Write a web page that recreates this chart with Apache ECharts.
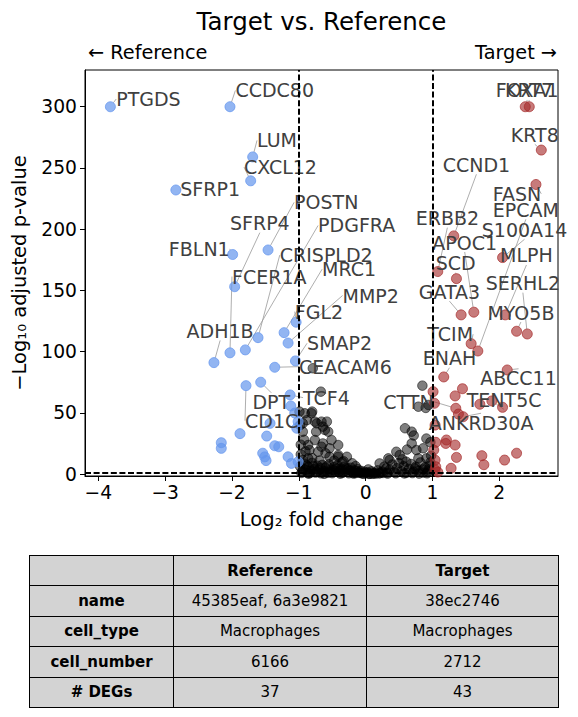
<!DOCTYPE html>
<html><head><meta charset="utf-8">
<script src="https://cdn.jsdelivr.net/npm/echarts@6/dist/echarts.min.js"></script>
<style>
html,body{margin:0;padding:0;background:#fff;}
#wrap{position:relative;width:578px;height:717px;overflow:hidden;}
#chart{position:absolute;left:0;top:0;width:578px;height:717px;}
#tbl{position:absolute;left:29px;top:555px;border-collapse:collapse;font-family:'DejaVu Sans',sans-serif;font-size:15px;color:#000;table-layout:fixed;}
#tbl td{border:1px solid #000;background:#d3d3d3;text-align:center;height:29.4px;padding:0;white-space:nowrap;}
#tbl td.b{font-weight:bold;}
</style></head>
<body><div id="wrap"><div id="chart"></div><table id="tbl"></table></div>
<script>
// ---------------- data ----------------
const xTicks = [-4, -3, -2, -1, 0, 1, 2];
const yTicks = [0, 50, 100, 150, 200, 250, 300];
const fcThreshold = 1;
const pThreshold = 1.3; // -log10(0.05)

// [log2FC, -log10 padj, gene label]
const refPoints = [
  [-3.82, 300, 'PTGDS'], [-2.03, 300, 'CCDC80'], [-1.69, 259, 'LUM'], [-1.72, 239.5, 'CXCL12'],
  [-2.84, 232, 'SFRP1'], [-1.46, 183, 'POSTN'], [-1.99, 179.3, 'FBLN1'], [-1.96, 153, 'SFRP4'],
  [-2.03, 99, 'FCER1A'], [-2.27, 91, 'ADH1B'], [-1.80, 101.4, 'PDGFRA'], [-1.61, 111.4, 'CRISPLD2'],
  [-1.22, 115.5, 'MRC1'], [-1.04, 124, 'FGL2'], [-1.16, 107, 'MMP2'], [-1.05, 92.4, 'SMAP2'],
  [-1.36, 87.2, 'CEACAM6'], [-1.79, 72.2, 'CD1C'], [-1.57, 75, 'DPT'], [-1.13, 64.6, 'TCF4'],
  [-1.12, 55.6, ''], [-1.06, 49.8, ''], [-1.01, 42.8, ''], [-1.03, 37.4, ''], [-1.43, 41.4, ''],
  [-1.88, 33, ''], [-1.48, 31, ''], [-2.16, 25.6, ''], [-2.16, 21, ''], [-1.36, 23.1, ''],
  [-1.30, 22.3, ''], [-1.54, 17, ''], [-1.51, 14, ''], [-1.49, 11, ''], [-1.16, 14.1, ''],
  [-1.11, 8.7, ''], [-1.01, 10, '']
];
const targetPoints = [
  [2.39, 300, 'FOXA1'], [2.45, 300, 'KRT7'], [2.63, 264.6, 'KRT8'], [2.55, 236.5, 'FASN'],
  [1.32, 194.5, 'CCND1'], [2.05, 176.8, 'S100A14'], [1.08, 165.4, 'ERBB2'], [1.36, 159.6, 'SCD'],
  [1.43, 130, 'GATA3'], [1.62, 132.2, 'APOC1'], [2.09, 130, 'MLPH'], [2.26, 116.6, 'MYO5B'],
  [2.42, 114.4, 'SERHL2'], [1.58, 106.5, 'TCIM'], [1.68, 100.5, 'EPCAM'], [2.12, 85, 'ABCC11'],
  [1.17, 79.3, 'ENAH'], [1.45, 69.7, ''], [1.34, 63.8, ''], [1.01, 67.3, ''], [1.89, 59.7, 'TENT5C'],
  [1.71, 57, ''], [2.05, 54.5, ''], [1.35, 53.7, 'CTTN'], [1.39, 49, ''], [1.46, 46.8, 'ANKRD30A'],
  [1.03, 57.8, ''], [1.04, 40, ''], [1.05, 25.9, ''], [1.21, 27.8, ''], [1.20, 25, ''],
  [1.34, 23.7, ''], [1.36, 13.6, ''], [1.74, 15, ''], [1.77, 7.6, ''], [2.08, 11.4, ''],
  [2.26, 17, ''], [1.28, 4.7, ''], [1.04, 11.4, ''], [1.05, 6, ''], [1.04, 3.3, ''],
  [1.02, 19.6, ''], [1.08, 1.6, '']
];
const otherPoints = [
  [-0.79, 86.4], [-0.67, 67.3], [0.85, 72.2], [0.79, 55], [0.94, 56.4], [0.90, 54],
  [-0.99, 51], [-0.80, 51], [-0.88, 44], [-0.76, 42.8], [-0.58, 42.8], [-0.64, 38.7],
  [-0.61, 36], [-0.74, 34.6], [-0.94, 34.6], [-0.51, 27.8], [-0.76, 27.8], [-0.86, 23.7],
  [-0.66, 22.3], [-0.41, 23.7], [0.59, 37.4], [0.69, 34.6], [0.69, 25], [0.86, 21],
  [0.76, 19.6], [0.46, 18.2], [0.91, 12.8], [0.34, 12.8], [0.21, 8.7], [-0.28, 14.1],
  [-0.41, 14.1], [-0.54, 14.1], [-0.94, 11.4], [-0.91, 49.6], [-0.81, 49.6], [-0.94, 41.4],
  [-0.73, 41.4], [-0.66, 42.8], [-0.56, 34.6], [-0.64, 25], [-0.84, 19.6], [-0.71, 18.2],
  [-0.54, 21], [-0.86, 12.8], [-0.41, 15.5], [0.72, 31.5], [0.79, 12.8], [0.51, 15.5],
  [0.36, 11.4], [0.61, 10], [0.04, 3.8], [0.31, 4.7], [0.74, 4.7], [0.86, 3.8], [0.94, 3.8],
  [-0.97, 24], [-0.92, 28], [-0.98, 40], [0.91, 29], [0.97, 26],
  [-0.98, 6.2], [-0.95, 2.1], [-0.92, 8.5], [-0.90, 3.4], [-0.87, 0.8], [-0.85, 5.6],
  [-0.82, 2.7], [-0.80, 9.1], [-0.77, 4.0], [-0.75, 1.2], [-0.72, 6.8], [-0.70, 3.1],
  [-0.67, 0.6], [-0.65, 7.5], [-0.62, 2.4], [-0.60, 5.0], [-0.57, 1.0], [-0.55, 8.0],
  [-0.52, 3.6], [-0.50, 0.7], [-0.47, 5.8], [-0.45, 2.2], [-0.42, 7.1], [-0.40, 1.5],
  [-0.37, 4.4], [-0.35, 0.9], [-0.32, 6.0], [-0.30, 2.5], [-0.27, 3.8], [-0.25, 0.6],
  [-0.22, 5.2], [-0.20, 1.8], [-0.17, 3.0], [-0.15, 0.8], [-0.12, 4.1], [-0.10, 1.3],
  [-0.07, 2.6], [-0.05, 0.5], [-0.02, 1.9], [0.00, 0.7], [0.03, 1.4], [0.06, 0.4],
  [0.09, 2.2], [0.12, 0.6], [0.15, 1.1], [0.18, 3.0], [0.22, 0.8], [0.25, 2.0],
  [0.28, 6.1], [0.32, 1.2], [0.36, 3.5], [0.40, 7.8], [0.43, 1.6], [0.47, 4.8],
  [0.50, 9.0], [0.54, 2.3], [0.57, 6.4], [0.61, 1.0], [0.65, 4.2], [0.68, 8.2],
  [0.72, 1.9], [0.75, 6.0], [0.79, 2.8], [0.82, 9.5], [0.86, 1.2], [0.89, 5.4],
  [0.93, 2.0], [0.96, 7.0],
  [-0.96, 0.9], [-0.93, 4.5], [-0.88, 7.0], [-0.83, 1.0], [-0.78, 6.5], [-0.73, 2.0],
  [-0.68, 4.8], [-0.63, 1.5], [-0.58, 6.2], [-0.53, 1.8], [-0.48, 3.2], [-0.43, 4.6],
  [-0.38, 2.8], [-0.33, 1.6], [-0.28, 5.0], [-0.23, 2.9], [-0.18, 1.0], [-0.13, 2.4],
  [-0.08, 0.9], [-0.97, 16.0], [-0.90, 18.5], [-0.80, 13.0], [-0.69, 11.0], [-0.60, 17.0],
  [-0.47, 11.0], [-0.35, 9.8], [-0.33, 10.5], [-0.15, 6.5], [-0.20, 8.8], [0.55, 12.0],
  [0.62, 20.0], [0.98, 15.0], [0.97, 9.5], [0.15, 0.3], [0.20, 0.5], [0.10, 0.2],
  [0.26, 0.9], [0.05, 0.1], [0.33, 0.4], [0.45, 0.6], [0.58, 0.5], [0.70, 0.8],
  [0.80, 0.4], [0.92, 0.6], [-0.03, 0.2], [-0.18, 0.4], [-0.38, 0.3], [-0.62, 0.2], [-0.85, 0.3]
];

// label text anchors (left-middle of each gene label), in data coordinates
const labelAnchors = {
  PTGDS: [-3.733, 306.3], CCDC80: [-1.949, 313.3], LUM: [-1.625, 272.5], CXCL12: [-1.820, 250.7],
  SFRP1: [-2.774, 232.7], POSTN: [-1.070, 221.9], SFRP4: [-2.030, 204.9], FBLN1: [-2.945, 183.9],
  FCER1A: [-2.000, 161.3], ADH1B: [-2.679, 116.9], PDGFRA: [-0.711, 203.0], CRISPLD2: [-1.285, 178.8],
  MRC1: [-0.651, 167.3], MMP2: [-0.345, 145.8], FGL2: [-1.060, 132.7], SMAP2: [-0.876, 106.8],
  CEACAM6: [-0.996, 87.7], TCF4: [-0.936, 62.4], DPT: [-1.694, 58.6], CD1C: [-1.805, 43.6],
  FOXA1: [1.949, 313.3], KRT7: [2.088, 313.3], KRT8: [2.174, 277.1], CCND1: [1.154, 252.6],
  FASN: [1.904, 228.9], EPCAM: [1.904, 215.8], ERBB2: [0.750, 209.0], S100A14: [1.739, 199.5],
  APOC1: [0.999, 189.1], MLPH: [2.013, 178.5], SCD: [1.049, 172.2], GATA3: [0.795, 149.0],
  SERHL2: [1.799, 155.9], MYO5B: [1.823, 131.9], TCIM: [0.924, 114.2], ENAH: [0.855, 94.6],
  ABCC11: [1.718, 78.2], TENT5C: [1.514, 60.5], ANKRD30A: [0.945, 41.9], CTTN: [0.264, 59.1]
};

const tableHeader = ['', 'Reference', 'Target'];
const tableRows = [
  ['name', '45385eaf, 6a3e9821', '38ec2746'],
  ['cell_type', 'Macrophages', 'Macrophages'],
  ['cell_number', '6166', '2712'],
  ['# DEGs', '37', '43']
];

// ---------------- table ----------------
(function buildTable() {
  const t = document.getElementById('tbl');
  const cg = document.createElement('colgroup');
  [144, 193, 192].forEach(w => { const c = document.createElement('col'); c.style.width = w + 'px'; cg.appendChild(c); });
  t.appendChild(cg);
  const rows = [tableHeader].concat(tableRows);
  rows.forEach((r, ri) => {
    const tr = document.createElement('tr');
    r.forEach((v, ci) => {
      const td = document.createElement('td');
      td.textContent = v;
      if (ri === 0 || ci === 0) td.className = 'b';
      tr.appendChild(td);
    });
    t.appendChild(tr);
  });
})();

// ---------------- chart ----------------
const FONT = 'DejaVu Sans';
const chart = echarts.init(document.getElementById('chart'), null, { renderer: 'svg' });
const fmt = v => (v < 0 ? '\u2212' + Math.abs(v) : String(v));

function toData(list) {
  return list.map(p => ({ value: [p[0], p[1]], name: p[2] || '', label: { show: !!p[2] } }));
}
const geneLabel = {
  show: false, formatter: p => p.name, fontFamily: FONT, fontSize: 19, color: '#404040',
  align: 'left', verticalAlign: 'middle', textBorderWidth: 0
};
const geneLabelLine = { show: true, lineStyle: { color: '#999', width: 0.8 } };
function placeLabel(params) {
  const a = labelAnchors[params.text];
  if (!a) return {};
  const p = chart.convertToPixel({ gridIndex: 0 }, a);
  return { x: p[0], y: p[1], align: 'left', verticalAlign: 'middle' };
}

const option = {
  animation: false,
  backgroundColor: '#fff',
  title: {
    text: 'Target vs. Reference', left: 321.5, top: 9, textAlign: 'center', padding: 0,
    textStyle: { fontFamily: FONT, fontSize: 24.5, fontWeight: 'normal', color: '#000' }
  },
  graphic: [
    { type: 'text', left: 88, top: 43, style: { text: '\u2190 Reference', font: '19.3px "DejaVu Sans"', fill: '#000' } },
    { type: 'text', right: 21, top: 43, style: { text: 'Target \u2192', font: '19.3px "DejaVu Sans"', fill: '#000' } }
  ],
  grid: { left: 85, right: 20, top: 70, bottom: 241, show: true, borderColor: '#000', borderWidth: 1, outerBoundsMode: 'none' },
  xAxis: {
    type: 'value', min: -4.2, max: 2.88,
    name: 'Log\u2082 fold change', nameLocation: 'middle', nameGap: 33,
    nameTextStyle: { fontFamily: FONT, fontSize: 19.5, color: '#000' },
    axisLine: { show: true, onZero: false, lineStyle: { color: '#000', width: 1 } },
    axisTick: { show: true, length: 5, customValues: xTicks, lineStyle: { color: '#000' } },
    axisLabel: { customValues: xTicks, formatter: fmt, fontFamily: FONT, fontSize: 18.7, color: '#000', margin: 7 },
    splitLine: { show: false }
  },
  yAxis: {
    type: 'value', min: -1.6, max: 330,
    name: '\u2212Log\u2081\u2080 adjusted p-value', nameLocation: 'middle', nameGap: 56,
    nameTextStyle: { fontFamily: FONT, fontSize: 19.5, color: '#000' },
    axisLine: { show: true, onZero: false, lineStyle: { color: '#000', width: 1 } },
    axisTick: { show: true, length: 5, customValues: yTicks, lineStyle: { color: '#000' } },
    axisLabel: { customValues: yTicks, formatter: fmt, fontFamily: FONT, fontSize: 18.7, color: '#000', margin: 8 },
    splitLine: { show: false }
  },
  series: [
    {
      name: 'other', type: 'scatter', z: 2, silent: true, symbolSize: 9.5,
      data: otherPoints.map(p => [p[0], p[1]]),
      itemStyle: { color: 'rgba(0,0,0,0.5)', borderColor: 'rgba(0,0,0,0.55)', borderWidth: 1, opacity: 1 }
    },
    {
      name: 'Reference', type: 'scatter', z: 3, silent: true, symbolSize: 10,
      data: toData(refPoints),
      itemStyle: { color: 'rgba(100,149,237,0.7)', borderColor: 'rgba(100,149,237,0.75)', borderWidth: 1, opacity: 1 },
      label: geneLabel, labelLine: geneLabelLine, labelLayout: placeLabel
    },
    {
      name: 'Target', type: 'scatter', z: 4, silent: true, symbolSize: 10,
      data: toData(targetPoints),
      itemStyle: { color: 'rgba(165,42,42,0.62)', borderColor: 'rgba(165,42,42,0.7)', borderWidth: 1, opacity: 1 },
      label: geneLabel, labelLine: geneLabelLine, labelLayout: placeLabel,
      markLine: {
        silent: true, symbol: 'none', label: { show: false },
        lineStyle: { color: '#000', type: [6, 2.6], width: 2 },
        data: [{ xAxis: -fcThreshold }, { xAxis: fcThreshold }, { yAxis: pThreshold }]
      }
    }
  ]
};
chart.setOption(option);
</script></body></html>
